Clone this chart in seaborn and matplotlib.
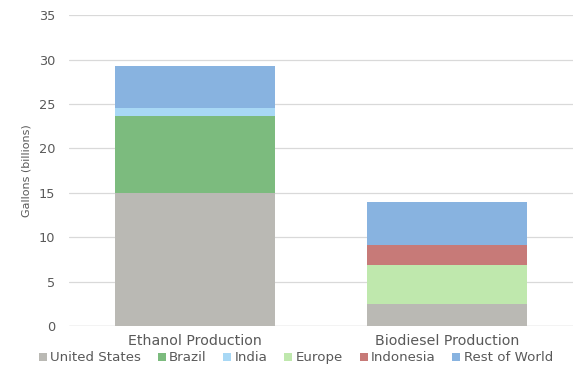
import numpy as np
import pandas as pd
import matplotlib
matplotlib.use("Agg")
import matplotlib.pyplot as plt
import seaborn as sns
from matplotlib.lines import Line2D

categories = ["Ethanol Production", "Biodiesel Production"]
series = ["United States", "Brazil", "India", "Europe", "Indonesia", "Rest of World"]
united_states = [15.0, 2.5]
brazil = [8.7, 0.0]
india = [0.8, 0.0]
europe = [0.0, 4.4]
indonesia = [0.0, 2.2]
rest_of_world = [4.8, 4.9]
colors = ["#BAB9B4", "#7CBB7E", "#A8D8F5", "#BFE8AD", "#C77A78", "#88B3E0"]
yticks = [0, 5, 10, 15, 20, 25, 30, 35]

values = [united_states, brazil, india, europe, indonesia, rest_of_world]
rows = []
for name, vals in zip(series, values):
    for cat, v in zip(categories, vals):
        rows.append({"category": cat, "series": name, "value": v})
df = pd.DataFrame(rows)
df["cum"] = df.groupby("category")["value"].cumsum()

sns.set_theme(style="white")
plt.rcParams["font.family"] = ["DejaVu Sans"]

fig = plt.figure(figsize=(5.79, 3.70), dpi=100)
ax = fig.add_axes([0.119, 0.119, 0.871, 0.840])

# Stacked bars: draw cumulative totals from the top layer down
for name, col in reversed(list(zip(series, colors))):
    sub = df[df["series"] == name]
    sns.barplot(data=sub, x="category", y="cum", order=categories, color=col,
                width=0.635, saturation=1, ax=ax, zorder=3, linewidth=0)

ax.set_ylim(0, 35)
ax.set_yticks(yticks)
ax.yaxis.grid(True, color="#D9D9D9", linewidth=0.9, zorder=0)
ax.set_axisbelow(True)
for s in ax.spines.values():
    s.set_visible(False)
ax.axhline(0, color="#D9D9D9", linewidth=1.0, zorder=1)
ax.tick_params(axis="both", length=0, colors="#595959")
ax.tick_params(axis="y", pad=10, labelsize=9.3)
ax.tick_params(axis="x", pad=6, labelsize=10.2)
ax.set_xlabel("")
ax.set_ylabel("Gallons (billions)", color="#595959", fontsize=8, labelpad=5)

handles = [Line2D([0], [0], marker="s", linestyle="", markersize=5.3,
                  markerfacecolor=c, markeredgewidth=0) for c in colors]
fig.legend(handles, series, loc="center", bbox_to_anchor=(0.510, 0.033), ncol=6,
           frameon=False, fontsize=9.6, handletextpad=0.15, columnspacing=1.15,
           handlelength=0.8, labelcolor="#595959")

fig.savefig("out.png", dpi=100)
